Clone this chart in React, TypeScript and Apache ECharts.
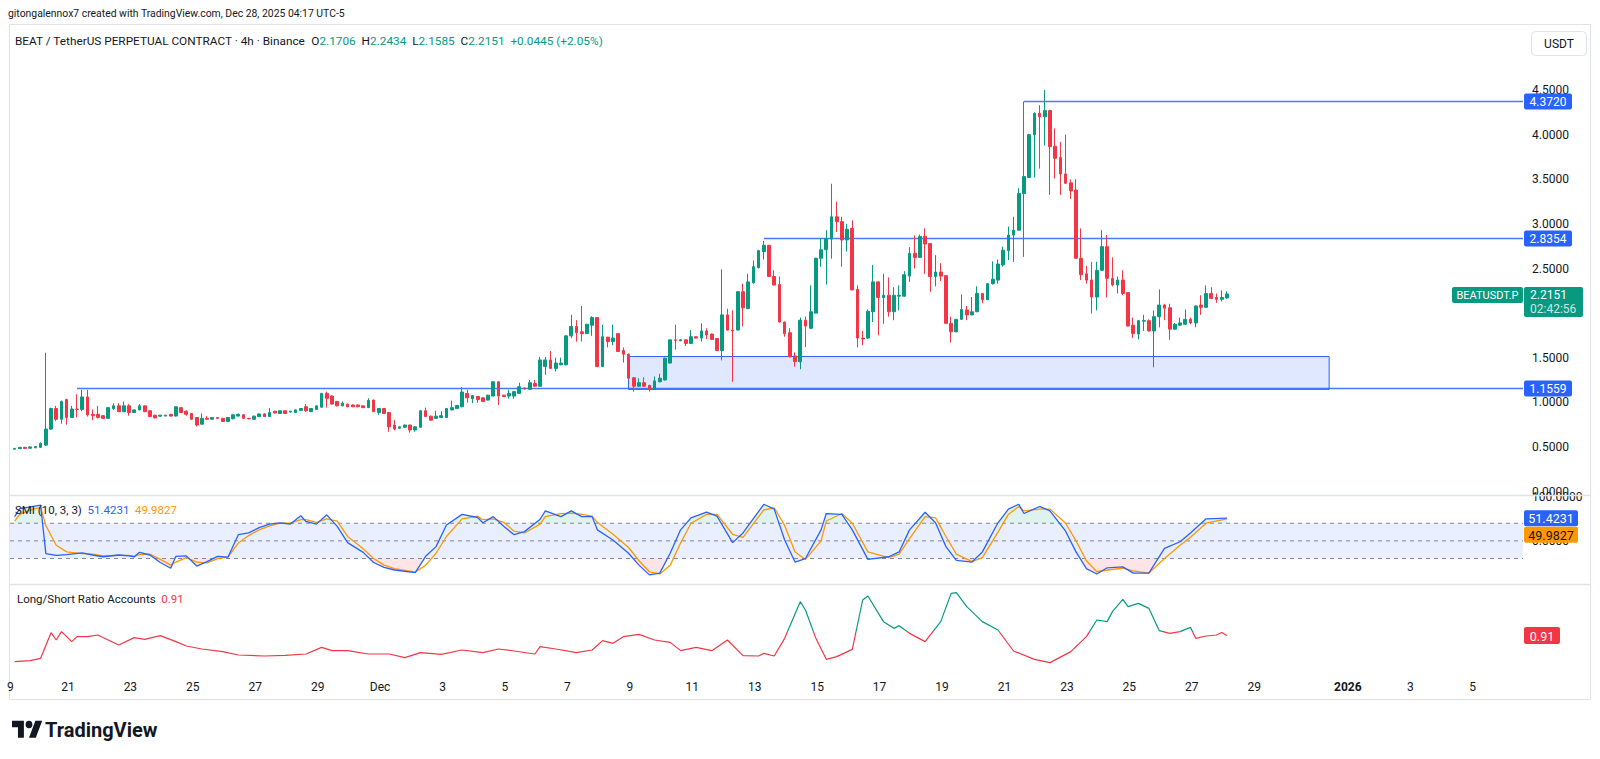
import React, { useEffect, useRef } from 'react';
import * as echarts from 'echarts';

// ---------- DATA ----------
// 4h candles, candle j opens at Nov 19 07:00 (UTC-5) + 4h * j
const opens = [
  0.475,0.48,0.495,0.485,0.49,0.495,0.52,0.70,0.93,0.81,
  1.03,0.83,0.925,0.92,1.06,0.865,0.865,0.85,0.82,0.93,
  0.96,0.895,0.96,0.885,0.915,0.96,0.905,0.855,0.845,0.846,
  0.865,0.846,0.94,0.90,0.875,0.83,0.755,0.82,0.81,0.83,
  0.82,0.785,0.815,0.846,0.86,0.82,0.81,0.84,0.87,0.84,
  0.90,0.875,0.905,0.89,0.885,0.91,0.95,0.895,0.92,0.945,
  1.10,1.07,1.01,0.96,0.98,0.97,0.97,0.96,0.94,1.025,
  0.885,0.93,0.885,0.745,0.71,0.72,0.745,0.69,0.72,0.905,
  0.845,0.82,0.83,0.83,0.915,0.93,0.95,1.10,1.04,1.065,
  1.05,1.025,1.07,1.23,1.08,1.07,1.07,1.10,1.16,1.145,
  1.21,1.18,1.40,1.475,1.38,1.42,1.42,1.745,1.85,1.79,
  1.77,1.865,1.95,1.40,1.73,1.68,1.77,1.58,1.54,1.275,
  1.18,1.22,1.19,1.145,1.23,1.25,1.44,1.70,1.69,1.70,
  1.66,1.735,1.72,1.80,1.765,1.715,1.58,1.98,1.81,1.81,
  2.24,2.05,2.34,2.51,2.69,2.76,2.41,2.32,1.90,1.78,
  1.52,1.455,1.92,1.83,2.0,2.615,2.71,2.83,3.08,3.025,
  2.82,2.95,2.265,1.72,1.72,2.015,2.35,2.175,2.2,2.015,
  2.19,2.19,2.415,2.67,2.625,2.86,2.78,2.41,2.46,2.42,
  1.885,1.79,1.93,2.035,1.98,2.015,2.22,2.15,2.33,2.37,
  2.54,2.70,2.875,2.93,3.34,3.52,4.00,4.24,4.20,4.27,
  3.87,3.745,3.56,3.46,3.38,2.615,2.44,2.37,2.18,2.48,
  2.745,2.39,2.315,2.37,2.23,1.865,1.765,1.91,1.915,1.80,
  1.96,2.09,2.06,1.82,1.865,1.875,1.93,1.89,2.09,2.065,
  2.22,2.175,2.155,2.1706,
];
const closes = [
  0.483,0.495,0.483,0.5,0.503,0.54,0.70,0.93,0.81,1.01,
  0.83,0.925,0.92,1.06,0.86,0.85,0.83,0.82,0.94,0.96,
  0.895,0.96,0.885,0.915,0.96,0.895,0.84,0.825,0.855,0.855,
  0.846,0.95,0.885,0.865,0.81,0.745,0.82,0.81,0.83,0.82,
  0.785,0.83,0.86,0.865,0.82,0.815,0.845,0.87,0.84,0.885,
  0.88,0.905,0.875,0.90,0.915,0.93,0.905,0.93,0.96,1.10,
  1.045,0.98,0.96,0.99,0.95,0.95,0.95,0.94,1.02,0.895,
  0.93,0.875,0.725,0.70,0.725,0.745,0.69,0.725,0.905,0.84,
  0.80,0.845,0.85,0.93,0.94,0.965,1.115,1.05,1.075,1.03,
  1.01,1.08,1.23,1.07,1.065,1.10,1.12,1.175,1.15,1.22,
  1.18,1.475,1.475,1.38,1.44,1.44,1.745,1.85,1.78,1.77,
  1.875,1.95,1.40,1.735,1.68,1.72,1.57,1.54,1.27,1.18,
  1.22,1.18,1.145,1.24,1.27,1.495,1.70,1.695,1.70,1.66,
  1.735,1.72,1.80,1.755,1.705,1.58,1.98,1.81,1.80,2.24,
  2.06,2.35,2.52,2.70,2.76,2.41,2.315,1.90,1.77,1.51,
  1.455,1.92,1.855,2.015,2.615,2.71,2.83,3.08,3.025,2.82,
  2.94,2.26,1.72,1.71,2.02,2.35,2.175,2.2,2.015,2.2,
  2.2,2.43,2.67,2.625,2.86,2.775,2.41,2.46,2.415,1.885,
  1.79,1.93,2.04,1.98,2.015,2.22,2.15,2.33,2.38,2.55,
  2.705,2.875,2.93,3.34,3.53,4.00,4.24,4.20,4.27,3.865,
  3.735,3.56,3.455,3.37,2.615,2.43,2.37,2.18,2.48,2.745,
  2.39,2.315,2.37,2.22,1.855,1.77,1.915,1.915,1.80,1.96,
  2.09,2.055,1.82,1.875,1.89,1.93,1.89,2.08,2.065,2.22,
  2.165,2.155,2.175,2.2151,
];
const lows = [
  0.47,0.478,0.48,0.482,0.486,0.49,0.51,0.69,0.79,0.76,
  0.75,0.83,0.83,0.90,0.84,0.80,0.82,0.815,0.815,0.915,
  0.89,0.89,0.85,0.88,0.91,0.89,0.835,0.82,0.84,0.842,
  0.84,0.84,0.88,0.85,0.805,0.73,0.75,0.805,0.805,0.815,
  0.78,0.78,0.81,0.84,0.815,0.81,0.805,0.835,0.835,0.835,
  0.875,0.87,0.87,0.885,0.88,0.905,0.89,0.89,0.915,0.94,
  0.94,0.975,0.955,0.955,0.945,0.945,0.945,0.935,0.935,0.89,
  0.86,0.87,0.67,0.685,0.705,0.715,0.66,0.67,0.715,0.835,
  0.795,0.815,0.825,0.825,0.91,0.925,0.945,0.995,0.99,0.995,
  1.005,1.02,1.065,0.97,1.06,1.04,1.04,1.095,1.145,1.14,
  1.175,1.175,1.31,1.375,1.345,1.415,1.415,1.72,1.68,1.68,
  1.765,1.745,1.395,1.395,1.615,1.64,1.565,1.445,1.265,1.12,
  1.175,1.175,1.12,1.14,1.225,1.245,1.435,1.59,1.685,1.63,
  1.655,1.715,1.68,1.71,1.70,1.575,1.47,1.805,1.23,1.805,
  1.85,2.045,2.33,2.50,2.60,2.405,2.31,1.895,1.735,1.505,
  1.40,1.37,1.62,1.82,1.995,2.52,2.32,2.61,2.91,2.52,
  2.69,2.255,1.615,1.64,1.71,1.90,1.75,1.88,1.96,1.92,
  2.03,2.185,2.35,2.50,2.62,2.44,2.24,2.30,2.36,1.88,
  1.67,1.785,1.925,1.92,1.975,2.01,2.11,2.145,2.32,2.33,
  2.52,2.595,2.575,2.925,2.63,3.52,3.52,3.62,3.88,3.325,
  3.51,3.325,3.45,3.28,2.61,2.37,2.33,1.995,2.03,2.475,
  2.175,2.30,2.22,2.20,1.85,1.72,1.705,1.80,1.795,1.392,
  1.84,1.92,1.70,1.815,1.86,1.865,1.875,1.84,1.98,2.06,
  2.155,2.115,2.13,2.1585,
];
const highs = [
  0.488,0.5,0.5,0.505,0.508,0.55,1.556,0.94,0.96,1.02,
  1.04,0.96,1.09,1.14,1.14,0.92,0.96,0.855,0.945,0.99,
  0.99,1.01,0.98,0.92,0.98,0.965,0.91,0.86,0.86,0.86,
  0.87,0.955,0.945,0.91,0.88,0.835,0.875,0.845,0.835,0.835,
  0.825,0.835,0.865,0.875,0.865,0.825,0.85,0.875,0.875,0.935,
  0.905,0.91,0.91,0.905,0.92,0.935,0.98,0.935,0.965,1.105,
  1.12,1.08,1.015,1.01,0.985,0.975,0.975,0.965,1.045,1.03,
  0.935,0.935,0.89,0.80,0.73,0.75,0.75,0.73,0.91,0.94,
  0.85,0.905,0.90,0.935,1.02,0.97,1.17,1.14,1.08,1.07,
  1.055,1.085,1.235,1.235,1.085,1.14,1.125,1.22,1.165,1.25,
  1.25,1.51,1.51,1.575,1.50,1.50,1.75,1.98,1.92,2.08,
  1.88,1.965,1.955,1.87,1.735,1.87,1.775,1.615,1.545,1.28,
  1.27,1.28,1.195,1.29,1.32,1.50,1.705,1.87,1.705,1.705,
  1.81,1.74,1.885,1.83,1.77,1.72,2.49,2.05,2.03,2.245,
  2.33,2.44,2.59,2.71,2.81,2.765,2.48,2.41,1.905,1.83,
  1.56,1.95,1.96,2.31,2.62,2.84,2.93,3.45,3.25,3.08,
  3.0,3.04,2.31,1.80,2.04,2.54,2.36,2.44,2.40,2.29,
  2.31,2.47,2.74,2.87,2.88,2.95,2.785,2.65,2.56,2.425,
  1.96,1.935,2.21,2.08,2.18,2.30,2.225,2.335,2.58,2.60,
  2.745,2.97,3.08,3.40,4.372,4.01,4.25,4.33,4.50,4.28,
  4.07,3.92,4.0,3.50,3.50,2.95,2.53,2.575,2.575,2.93,
  2.875,2.625,2.41,2.48,2.235,1.95,1.92,1.98,1.93,2.03,
  2.265,2.105,2.105,1.89,1.95,2.04,1.95,2.085,2.20,2.31,
  2.29,2.22,2.255,2.2434,
];

// SMI (10,3,3) — sampled at candle indices
const smiIdx = [0,1,3,5,6,8,10,13,15,17,20,22,23,24,26,28,30,31,33,35,37,39,41,43,45,47,49,51,53,55,56,58,60,62,64,67,69,71,73,77,79,81,83,86,89,90,92,94,96,98,101,102,105,107,109,111,112,115,118,120,122,124,126,128,130,133,135,138,140,144,146,148,150,152,155,156,159,161,164,168,170,172,175,177,179,181,184,186,189,191,193,194,197,199,202,204,206,208,210,213,215,218,221,224,226,229,233];
const smiLine = [55,73,77,81,-29,-33,-31,-27,-32,-36,-32,-34,-36,-26,-32,-49,-62,-35,-34,-57,-47,-35,-37,14,18,30,38,41,38,57,44,38,59,33,-4,-26,-49,-60,-66,-72,-35,-13,36,60,53,41,55,33,14,21,49,68,55,68,55,55,25,2,-28,-55,-77,-73,-28,25,52,65,56,-4,18,83,72,2,-48,-40,25,62,60,25,-42,-36,-25,25,65,41,-13,-44,-48,-25,41,72,83,62,78,68,22,-25,-63,-75,-61,-59,-73,-73,-17,-2,18,50,51.4231];
const smiSignal = [45,60,70,76,35,-10,-25,-29,-30,-34,-33,-33,-35,-31,-30,-42,-55,-48,-38,-48,-50,-40,-37,-5,12,25,34,40,40,48,48,42,50,45,10,-18,-40,-55,-63,-71,-55,-28,10,50,56,48,50,42,22,18,38,55,62,63,60,56,42,15,-15,-45,-70,-75,-55,-5,40,60,60,15,8,70,75,35,-25,-42,0,45,62,40,-25,-38,-30,5,55,52,10,-30,-47,-38,20,60,78,68,72,72,40,0,-45,-70,-66,-62,-68,-73,-40,-10,8,40,49.9827];
const smiBand = [40, -40];
const smiGuides = [40, 0, -40];

// Long/Short Ratio Accounts — sampled at candle indices
const lsIdx = [0,3,5,7,8,9,11,12,14,16,20,23,25,28,31,33,36,40,43,48,52,56,59,61,64,68,72,75,78,82,86,90,93,96,100,101,104,108,111,113,115,117,120,123,126,128,131,134,137,140,143,144,146,148,151,152,154,156,158,161,163,164,167,169,170,172,175,178,180,181,183,186,189,192,196,199,203,206,208,210,211,213,214,216,218,220,222,224,226,227,229,231,232,233];
const lsValues = [0.387,0.407,0.453,0.967,0.82,0.987,0.787,0.887,0.887,0.92,0.72,0.867,0.833,0.907,0.787,0.70,0.64,0.587,0.52,0.50,0.513,0.54,0.673,0.607,0.607,0.54,0.54,0.467,0.567,0.533,0.62,0.567,0.64,0.60,0.54,0.687,0.64,0.567,0.62,0.807,0.753,0.887,0.933,0.82,0.773,0.607,0.673,0.607,0.82,0.507,0.50,0.553,0.50,0.853,1.587,1.42,0.853,0.433,0.487,0.633,1.62,1.70,1.187,1.053,1.107,0.953,0.787,1.187,1.753,1.767,1.487,1.187,1.02,0.60,0.433,0.367,0.587,0.887,1.22,1.187,1.387,1.633,1.487,1.553,1.453,1.007,0.953,0.987,1.073,0.853,0.90,0.92,0.97,0.91];
const lsThreshold = 1;

// Horizontal rays (price, starting candle)
const levelPrices = [4.372, 2.8354, 1.1559];
const levelLabels = ['4.3720', '2.8354', '1.1559'];
const levelStartIdx = [194, 144, 12];
// Support zone rectangle
const zoneStartIdx = 118;
const zoneEndDay = 42.4;
const zoneTop = 1.513;
const zoneBottom = 1.145;

// Time axis (days since Nov 19 00:00)
const tickDays = [2,4,6,8,10,12,14,16,18,20,22,24,26,28,30,32,34,36,38,40,43,45,47];
const tickLabels = ['21','23','25','27','29','Dec','3','5','7','9','11','13','15','17','19','21','23','25','27','29','2026','3','5'];

const lastPrice = 2.2151;
const smiLast = 51.4231;
const smiSignalLast = 49.9827;
const lsLast = 0.91;

// ---------- STYLE ----------
const UP = '#089981';
const DOWN = '#f23645';
const BLUE = '#2962ff';
const ORANGE = '#ff9800';
const TXT = '#131722';
const FONT = 'Roboto, "Noto Sans", sans-serif';
const X_MIN = 0.144;
const X_MAX = 48.61;
const PX_PER_DAY = 1513 / (X_MAX - X_MIN);
const X0_PX = 10 - X_MIN * PX_PER_DAY; // pixel of day 0

const dayOf = (j: number) => 7 / 24 + j / 6;

echarts.graphic.registerShape(
  'tvlogo',
  echarts.graphic.extendPath(
    'M14 25H7V14H0V7h14v18zM28 25h-8l7.5-18h8L28 25zM24 11a4 4 0 1 1-8 0a4 4 0 0 1 8 0z',
    {}
  ) as any
);

const rectRender = (fill: string, stroke: string | null) => (params: any, api: any) => {
  const p0 = api.coord([api.value(0), api.value(1)]);
  const p1 = api.coord([api.value(2), api.value(3)]);
  return {
    type: 'rect',
    shape: { x: p0[0], y: p0[1], width: p1[0] - p0[0], height: p1[1] - p0[1] },
    style: stroke ? { fill, stroke, lineWidth: 1 } : { fill },
    silent: true,
  };
};

// fill between an SMI segment and a level, only on the outer side of the level
const levelFillRender = (level: number, above: boolean, fill: string) => (params: any, api: any) => {
  const x0 = api.value(0), v0 = api.value(1), x1 = api.value(2), v1 = api.value(3);
  const a = above ? v0 - level : level - v0;
  const b = above ? v1 - level : level - v1;
  if (a <= 0 && b <= 0) return { type: 'group', children: [] };
  let pts: number[][];
  if (a > 0 && b > 0) pts = [[x0, level], [x0, v0], [x1, v1], [x1, level]];
  else {
    const xc = x0 + (a / (a - b)) * (x1 - x0);
    pts = a > 0 ? [[x0, level], [x0, v0], [xc, level]] : [[xc, level], [x1, v1], [x1, level]];
  }
  return { type: 'polygon', silent: true, shape: { points: pts.map((p) => api.coord(p)) }, style: { fill } };
};

function buildOption(): any {
  const candleData = opens.map((o, j) => [dayOf(j), o, closes[j], lows[j], highs[j]]);
  const smiData = smiIdx.map((j, i) => [dayOf(j), smiLine[i]]);
  const sigData = smiIdx.map((j, i) => [dayOf(j), smiSignal[i]]);
  const lsData = lsIdx.map((j, i) => [dayOf(j), lsValues[i]]);
  const smiSegs = smiData.slice(0, -1).map((p, i) => [p[0], p[1], smiData[i + 1][0], smiData[i + 1][1]]);

  const levelSeries = levelPrices.map((p, k) => ({
    type: 'line',
    xAxisIndex: 0,
    yAxisIndex: 0,
    silent: true,
    symbol: 'none',
    z: 4,
    data: [[dayOf(levelStartIdx[k]), p], [X_MAX, p]],
    lineStyle: { color: BLUE, width: 1.5, opacity: 0.85 },
  }));

  const guideSeries = smiGuides.map((g) => ({
    type: 'line', xAxisIndex: 1, yAxisIndex: 1, silent: true, symbol: 'none', z: 3,
    data: [[X_MIN, g], [X_MAX, g]],
    lineStyle: { color: '#787b86', type: [4, 4], width: 1, opacity: 0.9 },
  }));

  const hiddenX = (gi: number) => ({
    type: 'value', gridIndex: gi, min: X_MIN, max: X_MAX, show: false,
  });

  const axisLbl = {
    color: TXT, fontSize: 12, fontFamily: FONT, margin: 9, align: 'left',
  };
  const noLines = { axisLine: { show: false }, axisTick: { show: false }, splitLine: { show: false } };

  return {
    animation: false,
    backgroundColor: '#ffffff',
    textStyle: { fontFamily: FONT },
    grid: [
      { left: 10, top: 26, width: 1513, height: 465.5 },
      { left: 10, top: 495, width: 1513, height: 90 },
      { left: X0_PX, top: 584, width: 1523 - X0_PX, height: 89 },
    ],
    xAxis: [
      hiddenX(0),
      hiddenX(1),
      {
        type: 'value', gridIndex: 2, min: 0, max: X_MAX, interval: 1,
        ...noLines,
        axisLabel: {
          color: TXT, fontSize: 12, fontFamily: FONT, margin: 8,
          showMinLabel: false, showMaxLabel: false,
          formatter: (v: number) => {
            const i = tickDays.findIndex((d) => Math.abs(d - v) < 1e-6);
            if (i < 0) return '';
            const t = tickLabels[i];
            return t === '2026' ? '{b|' + t + '}' : t;
          },
          rich: { b: { fontWeight: 'bold', fontSize: 12, color: TXT, fontFamily: FONT } },
        },
      },
    ],
    yAxis: [
      {
        type: 'value', gridIndex: 0, position: 'right', min: 0, max: (491.5 - 26) / 89.2, interval: 0.5,
        ...noLines,
        axisLabel: { ...axisLbl, showMaxLabel: false, formatter: (v: number) => (v > 4.75 ? '' : v.toFixed(4)) },
      },
      {
        type: 'value', gridIndex: 1, position: 'right', min: -100, max: 104, interval: 100,
        ...noLines,
        axisLabel: { ...axisLbl, showMaxLabel: false, formatter: (v: number) => (v < -50 ? '' : v.toFixed(4)) },
      },
      {
        type: 'value', gridIndex: 2, position: 'right', min: 0.16, max: 1.94,
        ...noLines,
        axisLabel: { ...axisLbl, formatter: (v: number) => (Math.abs(v - 1) < 1e-6 ? '1.00' : '') },
      },
    ],
    visualMap: [
      {
        type: 'piecewise', show: false, seriesIndex: 0, dimension: 1,
        pieces: [
          { gte: 0, lt: lsThreshold, color: DOWN },
          { gte: lsThreshold, lte: 5, color: UP },
        ],
        outOfRange: { color: DOWN },
      },
    ],
    series: [
      {
        type: 'line', xAxisIndex: 2, yAxisIndex: 2, silent: true, symbol: 'none',
        data: lsData,
        lineStyle: { width: 1.2 },
      },
      {
        type: 'custom', xAxisIndex: 0, yAxisIndex: 0, silent: true, z: 1,
        renderItem: rectRender('rgba(41,98,255,0.15)', BLUE),
        encode: { x: [0, 2], y: [1, 3] },
        data: [[dayOf(zoneStartIdx), zoneTop, zoneEndDay, zoneBottom]],
      },
      {
        type: 'custom', xAxisIndex: 1, yAxisIndex: 1, silent: true, z: 1,
        renderItem: rectRender('rgba(41,98,255,0.1)', null),
        encode: { x: [0, 2], y: [1, 3] },
        data: [[X_MIN, smiBand[0], X_MAX, smiBand[1]]],
      },
      {
        type: 'custom', xAxisIndex: 1, yAxisIndex: 1, silent: true, z: 2,
        renderItem: levelFillRender(smiBand[0], true, 'rgba(8,153,129,0.13)'),
        encode: { x: [0, 2], y: [1, 3] },
        data: smiSegs,
      },
      {
        type: 'custom', xAxisIndex: 1, yAxisIndex: 1, silent: true, z: 2,
        renderItem: levelFillRender(smiBand[1], false, 'rgba(242,54,69,0.13)'),
        encode: { x: [0, 2], y: [1, 3] },
        data: smiSegs,
      },
      {
        type: 'candlestick',
        xAxisIndex: 0, yAxisIndex: 0,
        silent: true,
        barWidth: 3.2,
        encode: { x: 0, y: [1, 2, 3, 4] },
        data: candleData,
        itemStyle: { color: UP, color0: DOWN, borderColor: UP, borderColor0: DOWN, borderWidth: 1 },
        z: 5,
      },
      ...levelSeries,
      ...guideSeries,
      {
        type: 'line', xAxisIndex: 1, yAxisIndex: 1, silent: true, symbol: 'none', z: 5,
        data: sigData,
        lineStyle: { color: ORANGE, width: 1.3 },
      },
      {
        type: 'line', xAxisIndex: 1, yAxisIndex: 1, silent: true, symbol: 'none', z: 6,
        data: smiData,
        lineStyle: { color: BLUE, width: 1.3 },
      },
    ],
  };
}

function tag(x: number, yc: number, w: number, h: number, fill: string, text: string, color = '#ffffff', size = 12) {
  return {
    type: 'group',
    z: 100,
    children: [
      { type: 'rect', z: 100, shape: { x, y: yc - h / 2, width: w, height: h, r: 2 }, style: { fill } },
      {
        type: 'text', z: 101, x: x + w / 2, y: yc + 0.5,
        style: { text, fill: color, font: `${size}px ${FONT}`, align: 'center', verticalAlign: 'middle' },
      },
    ],
  };
}

export default function App() {
  const ref = useRef<HTMLDivElement>(null);
  useEffect(() => {
    document.body.style.margin = '0';
    const chart = echarts.init(ref.current!, null, { renderer: 'svg' });
    chart.setOption(buildOption());

    const yP = (v: number) => (chart.convertToPixel({ gridIndex: 0 } as any, [1, v]) as number[])[1];
    const yS = (v: number) => (chart.convertToPixel({ gridIndex: 1 } as any, [1, v]) as number[])[1];
    const yL = (v: number) => (chart.convertToPixel({ gridIndex: 2 } as any, [1, v]) as number[])[1];

    const pY = yP(lastPrice);
    const sY = yS(smiLast);
    const graphic: any[] = [
      { type: 'rect', z: 50, shape: { x: 9.5, y: 24.5, width: 1581, height: 675 }, style: { fill: 'none', stroke: '#e0e3eb', lineWidth: 1 } },
      { type: 'line', z: 50, shape: { x1: 10, y1: 495.5, x2: 1590, y2: 495.5 }, style: { stroke: '#e0e3eb', lineWidth: 1.5 } },
      { type: 'line', z: 50, shape: { x1: 10, y1: 584.5, x2: 1590, y2: 584.5 }, style: { stroke: '#e0e3eb', lineWidth: 1.5 } },
      {
        type: 'text', x: 8, y: 13, z: 60,
        style: { text: 'gitongalennox7 created with TradingView.com, Dec 28, 2025 04:17 UTC-5', fill: TXT, font: `10.4px ${FONT}`, verticalAlign: 'middle' },
      },
      {
        type: 'text', x: 15, y: 41, z: 60,
        style: {
          text: '{t|BEAT / TetherUS PERPETUAL CONTRACT · 4h · Binance}  {k|O}{v|2.1706}  {k|H}{v|2.2434}  {k|L}{v|2.1585}  {k|C}{v|2.2151}  {v|+0.0445 (+2.05%)}',
          verticalAlign: 'middle',
          font: `11.8px ${FONT}`,
          rich: {
            t: { fill: TXT, fontSize: 11.8, fontFamily: FONT },
            k: { fill: TXT, fontSize: 11.8, fontFamily: FONT },
            v: { fill: UP, fontSize: 11.8, fontFamily: FONT },
          },
        },
      },
      {
        type: 'text', x: 15, y: 510, z: 60,
        style: {
          text: '{t|SMI (10, 3, 3)}  {b|51.4231}  {o|49.9827}',
          verticalAlign: 'middle',
          font: `11.5px ${FONT}`,
          rich: {
            t: { fill: TXT, fontSize: 11.5, fontFamily: FONT },
            b: { fill: BLUE, fontSize: 11.5, fontFamily: FONT },
            o: { fill: ORANGE, fontSize: 11.5, fontFamily: FONT },
          },
        },
      },
      {
        type: 'text', x: 17, y: 599, z: 60,
        style: {
          text: '{t|Long/Short Ratio Accounts}  {r|0.91}',
          verticalAlign: 'middle',
          font: `11.5px ${FONT}`,
          rich: {
            t: { fill: TXT, fontSize: 11.5, fontFamily: FONT },
            r: { fill: DOWN, fontSize: 11.5, fontFamily: FONT },
          },
        },
      },
      { type: 'text', x: 7, y: 687, z: 60, style: { text: '9', fill: TXT, font: `12px ${FONT}`, verticalAlign: 'middle' } },
      { type: 'rect', z: 60, shape: { x: 1531.5, y: 31.5, width: 55, height: 24, r: 4 }, style: { fill: '#ffffff', stroke: '#e0e3eb', lineWidth: 1 } },
      { type: 'text', z: 61, x: 1559, y: 44, style: { text: 'USDT', fill: TXT, font: `12px ${FONT}`, align: 'center', verticalAlign: 'middle' } },
      ...levelPrices.map((p, k) => tag(1524, yP(p), 48, 16, BLUE, levelLabels[k])),
      tag(1452, pY + 1, 71, 16, UP, 'BEATUSDT.P', '#ffffff', 11),
      {
        type: 'group', z: 100,
        children: [
          { type: 'rect', z: 100, shape: { x: 1524, y: pY - 7, width: 59, height: 30, r: 2 }, style: { fill: UP } },
          { type: 'text', z: 101, x: 1530, y: pY + 1.5, style: { text: lastPrice.toFixed(4), fill: '#ffffff', font: `12px ${FONT}`, verticalAlign: 'middle' } },
          { type: 'text', z: 101, x: 1530, y: pY + 15, style: { text: '02:42:56', fill: 'rgba(255,255,255,0.8)', font: `12px ${FONT}`, verticalAlign: 'middle' } },
        ],
      },
      tag(1524, sY, 54, 16, BLUE, smiLast.toFixed(4), '#ffffff', 12.5),
      tag(1524, sY + 16.5, 54, 16, ORANGE, smiSignalLast.toFixed(4), TXT, 12.5),
      tag(1524, yL(lsLast), 36, 17, DOWN, lsLast.toFixed(2), '#ffffff', 12.5),
      { type: 'tvlogo', z: 60, x: 12, y: 714, scaleX: 0.85, scaleY: 0.95, style: { fill: TXT } },
      { type: 'text', z: 60, x: 45, y: 730, style: { text: 'TradingView', fill: TXT, font: `bold 20px ${FONT}`, verticalAlign: 'middle' } },
    ];
    chart.setOption({ graphic });
    return () => chart.dispose();
  }, []);
  return <div ref={ref} style={{ width: 1600, height: 759 }} />;
}
